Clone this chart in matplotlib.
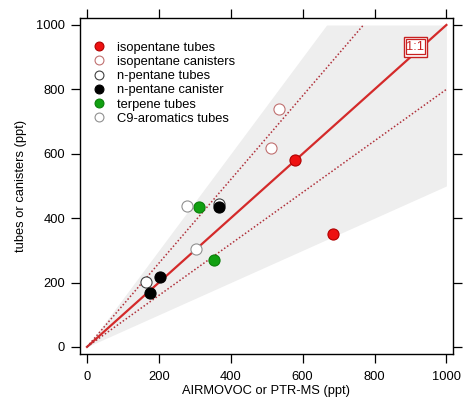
import matplotlib
matplotlib.use("Agg")
import matplotlib.pyplot as plt
import numpy as np
from matplotlib.patches import Rectangle

plt.rcParams['font.family'] = ['Liberation Sans', 'DejaVu Sans']

# data (x: AIRMOVOC or PTR-MS, y: tubes or canisters), ppt
iso_tubes_x = [580, 685]
iso_tubes_y = [580, 350]
iso_can_x = [535, 513]
iso_can_y = [739, 618]
npent_tubes_x = [164, 366]
npent_tubes_y = [203, 444]
npent_can_x = [368, 203, 175]
npent_can_y = [435, 217, 168]
terp_tubes_x = [312, 354]
terp_tubes_y = [435, 270]
c9_tubes_x = [278, 303]
c9_tubes_y = [437, 304]

# reference lines
one_to_one = 1.0
dotted_hi, dotted_lo = 1.3, 0.8
band_hi, band_lo = 1.5, 0.5
axis_max = 1000
ticks = [0, 200, 400, 600, 800, 1000]

FS = 9.3

fig = plt.figure(figsize=(4.64, 4.03), dpi=100)
ax = fig.add_axes([0.172, 0.1216, 0.804, 0.834])

xx = np.linspace(0, axis_max, 501)
ax.fill_between(xx, band_lo * xx, np.minimum(band_hi * xx, axis_max),
                color='#eeeeee', lw=0, zorder=0)
ax.plot([0, axis_max], [0, one_to_one * axis_max], color='#d42a2a', lw=1.6, zorder=2)
ax.plot([0, axis_max / dotted_hi], [0, axis_max], color='#b0303a', lw=1.1,
        ls=(0, (1, 1.4)), zorder=2)
ax.plot([0, axis_max], [0, dotted_lo * axis_max], color='#b0303a', lw=1.1,
        ls=(0, (1, 1.4)), zorder=2)

ms = 8
ax.plot(iso_tubes_x, iso_tubes_y, 'o', ms=ms, mfc='#ee1111', mec='#b00000', mew=0.8,
        ls='none', label='isopentane tubes', zorder=4)
ax.plot(iso_can_x, iso_can_y, 'o', ms=ms, mfc='white', mec='#c07070', mew=0.8,
        ls='none', label='isopentane canisters', zorder=4)
ax.plot(npent_tubes_x, npent_tubes_y, 'o', ms=ms, mfc='white', mec='#404040', mew=0.8,
        ls='none', label='n-pentane tubes', zorder=3)
ax.plot(npent_can_x, npent_can_y, 'o', ms=ms, mfc='black', mec='black', mew=0.8,
        ls='none', label='n-pentane canister', zorder=4)
ax.plot(terp_tubes_x, terp_tubes_y, 'o', ms=ms, mfc='#11a011', mec='#0a800a', mew=0.8,
        ls='none', label='terpene tubes', zorder=4)
ax.plot(c9_tubes_x, c9_tubes_y, 'o', ms=ms, mfc='white', mec='#909090', mew=0.8,
        ls='none', label='C9-aromatics tubes', zorder=4)

ax.legend(loc='upper left', frameon=False, fontsize=FS, markerscale=0.8,
          handlelength=1.0, handletextpad=0.9, labelspacing=0.17,
          borderaxespad=0.0, bbox_to_anchor=(0.02, 0.945))

# 1:1 label with double box
ax.add_patch(Rectangle((881, 902), 66, 60, fill=True, fc='white', ec='#c82020',
                       lw=1.0, zorder=5))
ax.add_patch(Rectangle((888, 909), 52, 46, fill=False, ec='#c82020', lw=0.9, zorder=5))
ax.text(914, 931, '1:1', color='#c82020', fontsize=FS, ha='center', va='center', zorder=6)

ax.set_xlim(-20, 1018)
ax.set_ylim(-22, 1022)
ax.set_xticks(ticks)
ax.set_yticks(ticks)
ax.tick_params(direction='out', length=6.5, width=0.9, top=True, right=True,
               labelsize=FS, colors='black', pad=4)
ax.tick_params(axis='x', pad=6)
for s in ax.spines.values():
    s.set_linewidth(1.0)
ax.set_xlabel('AIRMOVOC or PTR-MS (ppt)', fontsize=FS, labelpad=1)
ax.set_ylabel('tubes or canisters (ppt)', fontsize=FS, labelpad=7)

fig.savefig('out.png', dpi=100)
